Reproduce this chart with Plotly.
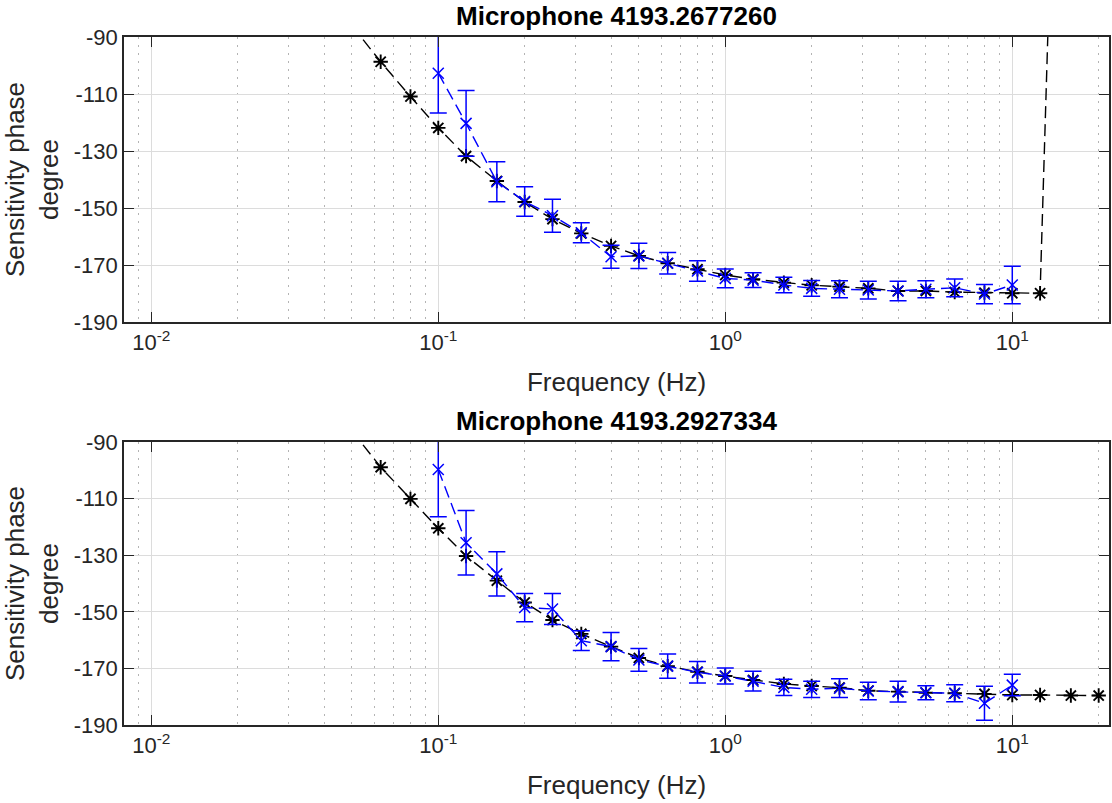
import plotly.graph_objects as go

# ---------------- data ----------------
freq_ref = [0.05, 0.063, 0.08, 0.1, 0.125, 0.16, 0.2, 0.25, 0.315, 0.4, 0.5, 0.63,
            0.8, 1.0, 1.25, 1.6, 2.0, 2.5, 3.15, 4.0, 5.0, 6.3, 8.0, 10.0, 12.5, 16.0, 20.0]
ref_phase_1 = [-86.0, -98.7, -110.9, -121.9, -131.8, -140.5, -147.9, -153.9, -158.9, -163.3,
               -166.8, -169.4, -171.5, -173.5, -175.0, -176.2, -177.1, -177.6, -178.2, -179.1,
               -179.1, -179.5, -179.7, -179.9, -179.9, 180.0, 180.0]
ref_phase_2 = [-86.0, -98.9, -110.1, -120.5, -130.3, -139.0, -146.7, -152.9, -157.8, -162.3,
               -166.3, -169.2, -171.2, -172.7, -174.1, -175.5, -176.2, -176.8, -177.9, -178.2,
               -178.6, -178.8, -179.0, -179.4, -179.4, -179.6, -179.6]

freq_meas = [0.1, 0.125, 0.16, 0.2, 0.25, 0.315, 0.4, 0.5, 0.63, 0.8, 1.0, 1.25, 1.6,
             2.0, 2.5, 3.15, 4.0, 5.0, 6.3, 8.0, 10.0]
meas_phase_1 = [-102.7, -120.3, -140.8, -147.7, -152.7, -158.7, -167.1, -166.8, -169.4, -172.1,
                -174.7, -175.3, -177.0, -178.2, -178.5, -178.8, -179.1, -178.5, -178.0, -180.2, -177.0]
meas_err_1 = [14.0, 11.5, 7.0, 5.2, 5.8, 3.5, 4.0, 4.4, 3.8, 3.6, 3.3, 2.6, 2.7, 2.8, 3.0,
              3.1, 3.4, 3.0, 3.1, 3.4, 6.6]
meas_phase_2 = [-99.7, -125.6, -136.6, -148.5, -149.0, -160.2, -162.3, -167.0, -169.2, -171.4,
                -172.7, -174.5, -176.7, -177.4, -177.0, -178.0, -178.2, -178.6, -178.8, -182.3, -175.9]
meas_err_2 = [16.7, 11.4, 7.8, 5.0, 5.5, 3.5, 5.0, 4.0, 4.3, 3.8, 2.8, 3.5, 2.9, 2.9, 3.3,
              3.1, 3.7, 2.5, 3.0, 6.0, 3.8]

titles = ["Microphone 4193.2677260", "Microphone 4193.2927334"]
x_tickvals = [0.01, 0.1, 1, 10]
x_ticktext = ["10<sup>-2</sup>", "10<sup>-1</sup>", "10<sup>0</sup>", "10<sup>1</sup>"]
y_tickvals = [-190, -170, -150, -130, -110, -90]
y_ticktext = ["-190", "-170", "-150", "-130", "-110", "-90"]
minor_vals = [m * 10 ** e for e in (-3, -2, -1, 0, 1) for m in range(2, 10)]

# ---------------- figure ----------------
W, H = 1112, 803
FONT = "Liberation Sans, Arial, sans-serif"
TXT = "#262626"

fig = go.Figure()

panels = [
    (ref_phase_1, meas_phase_1, meas_err_1, "x", "y"),
    (ref_phase_2, meas_phase_2, meas_err_2, "x2", "y2"),
]
for ref, meas, err, xa, ya in panels:
    fig.add_trace(go.Scatter(
        x=freq_ref, y=ref, xaxis=xa, yaxis=ya, mode="lines+markers",
        line=dict(color="black", width=1.4, dash="12px,6px"),
        marker=dict(symbol="asterisk-open", size=12, color="black",
                    line=dict(color="black", width=1.9)),
        showlegend=False))
    fig.add_trace(go.Scatter(
        x=freq_meas, y=meas, xaxis=xa, yaxis=ya, mode="lines+markers",
        line=dict(color="#0000ff", width=1.4, dash="12px,6px"),
        marker=dict(symbol="x-thin-open", size=11, color="#0000ff",
                    line=dict(color="#0000ff", width=1.5)),
        error_y=dict(type="data", array=err, visible=True, color="#0000ff",
                     thickness=1.5, width=8.5),
        showlegend=False))

L, R = 124, 1109
domains = [(37, 322), (442, 725)]

def xaxis_def(anchor):
    return dict(
        type="log", range=[-2.095, 1.337], domain=[0, 1], anchor=anchor,
        tickmode="array", tickvals=x_tickvals, ticktext=x_ticktext,
        ticks="inside", ticklen=10, tickwidth=1.3, tickcolor=TXT,
        showline=True, linecolor=TXT, linewidth=1.5, mirror="allticks",
        showgrid=True, gridcolor="#dcdcdc", gridwidth=1,
        minor=dict(tickmode="array", tickvals=minor_vals, showgrid=True,
                   gridcolor="#b4b4b4", griddash="1.5px,6.5px", gridwidth=1.2, ticks=""),
        tickfont=dict(family=FONT, size=22, color=TXT),
        title=dict(text="Frequency (Hz)", font=dict(family=FONT, size=26, color=TXT), standoff=19),
        zeroline=False, automargin=False,
    )

def yaxis_def(anchor, dom):
    return dict(
        range=[-190, -90], domain=[1 - dom[1] / H, 1 - dom[0] / H], anchor=anchor,
        tickmode="array", tickvals=y_tickvals, ticktext=y_ticktext,
        ticks="inside", ticklen=10, tickwidth=1.3, tickcolor=TXT,
        showline=True, linecolor=TXT, linewidth=1.5, mirror="allticks",
        showgrid=True, gridcolor="#dcdcdc", gridwidth=1,
        tickfont=dict(family=FONT, size=22, color=TXT),
        title=dict(text="Sensitivity phase<br>degree", font=dict(family=FONT, size=26, color=TXT),
                   standoff=8),
        zeroline=False, automargin=False,
    )

fig.update_layout(
    width=W, height=H,
    margin=dict(l=L, r=W - R, t=0, b=0, autoexpand=False),
    paper_bgcolor="white", plot_bgcolor="white",
    xaxis=xaxis_def("y"), yaxis=yaxis_def("x", domains[0]),
    xaxis2=xaxis_def("y2"), yaxis2=yaxis_def("x2", domains[1]),
    font=dict(family=FONT, color=TXT),
)

for (top, bot), t in zip(domains, titles):
    fig.add_annotation(text="<b>" + t + "</b>", xref="paper", yref="paper",
                       x=0.5, y=1 - (top - 37) / H, yanchor="top", borderpad=0,
                       showarrow=False,
                       font=dict(family=FONT, size=26, color="black"))

fig.write_html("out.html")
